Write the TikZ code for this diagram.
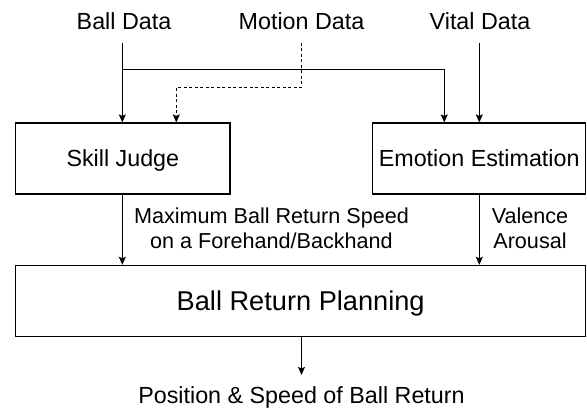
\documentclass[tikz,border=0pt]{standalone}
\usepackage{fontspec}
\setmainfont{Liberation Sans}
\usetikzlibrary{arrows.meta,calc}
\begin{document}
\begin{tikzpicture}[x=1pt,y=-1pt,
  every node/.style={font=\fontsize{23.3}{25}\selectfont},
  box/.style={draw=black, line width=1.2pt, inner sep=0pt, text depth=0pt},
  lbl/.style={anchor=base, inner sep=0pt},
  elbl/.style={lbl, align=center, font=\fontsize{21.6}{25}\selectfont},
  conn/.style={line width=1.1pt, draw=black},
  arr/.style={conn, -{Stealth[length=8pt,width=7pt,inset=1.5pt]}},
  darr/.style={arr, dash pattern=on 3pt off 2.5pt}
]
\useasboundingbox (0,0) rectangle (587,410);
% inputs
\node[lbl] (balld) at (124,29.3) {Ball Data};
\node[lbl] (motd) at (301.5,29.3) {Motion Data};
\node[lbl] (vitd) at (480,29.3) {Vital Data};
% boxes
\node[box, minimum width=214.3pt, minimum height=71pt] (skill) at (122.85,158.5) {Skill Judge};
\node[box, minimum width=213pt, minimum height=71pt] (emo) at (479.2,158.5) {Emotion Estimation};
\node[box, minimum width=570pt, minimum height=71.2pt, font=\fontsize{27.2}{30}\selectfont] (plan) at (300.7,301) {Ball Return Planning};
% labels (base = baseline of last line)
\node[elbl] (maxl) at (271.5,248.3) {Maximum Ball Return Speed\\on a Forehand/Backhand};
\node[elbl] (val) at (530,248.3) {Valence\\Arousal};
\node[lbl, inner ysep=11pt] (out) at (301.5,403) {Position \& Speed of Ball Return};
% connector start points
\coordinate (b0) at (122.3,42.7);
\coordinate (m0) at (301.5,42.7);
\coordinate (v0) at (479.3,42.7);
\coordinate (bsplit) at (122.3,69.3);
\coordinate (bturn) at (444.3,69.3);
\coordinate (mturn1) at (301.5,87.3);
\coordinate (mturn2) at (176.3,87.3);
% connectors
\draw[arr] (b0) -- (b0 |- skill.north);
\draw[arr] (bsplit) -- (bturn) -- (bturn |- emo.north);
\draw[darr] (m0) -- (mturn1) -- (mturn2) -- (mturn2 |- skill.north);
\draw[arr] (v0) -- (v0 |- emo.north);
\draw[arr] (skill.south -| b0) -- (b0 |- plan.north);
\draw[arr] (emo.south -| v0) -- (v0 |- plan.north);
\draw[arr] (plan.south -| out.north) -- (out.north);
\end{tikzpicture}
\end{document}
